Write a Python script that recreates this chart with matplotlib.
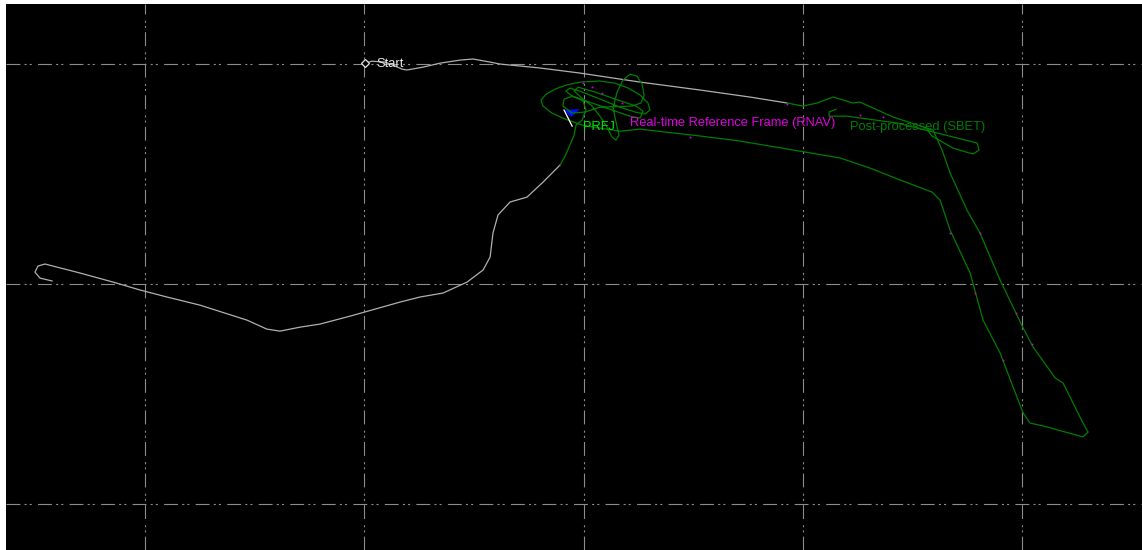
import matplotlib
matplotlib.use("Agg")
import matplotlib.pyplot as plt

plt.rcParams['lines.scale_dashes'] = False
plt.rcParams['font.family'] = ['Liberation Sans', 'DejaVu Sans']

# Grid positions (metres, local easting / northing)
grid_e = [0, 100, 200, 300, 400]
grid_n = [0, 100, 200]

# White (unprocessed) track - western leg
white_west = [(-42.4, 101.4), (-47.9, 102.7), (-50.2, 105.4), (-48.8, 108.2), (-45.6, 109.1),
              (-29.6, 105.0), (-14.6, 100.9), (-2.3, 97.3), (10.0, 94.1), (25.1, 90.4),
              (46.5, 83.6), (55.6, 79.5), (61.6, 78.6), (70.7, 80.4), (79.8, 81.8),
              (93.5, 85.4), (116.3, 91.8), (125.4, 94.1), (135.9, 95.9), (146.9, 100.9),
              (154.2, 106.4), (157.4, 112.3), (158.7, 123.2), (161.0, 131.4), (166.5, 137.3),
              (174.2, 139.5), (181.5, 146.3), (189.3, 154.1)]

# White track - northern leg from Start
white_top = [(100.3, 200.4), (103.5, 201.3), (109.5, 200.9), (114.0, 199.1), (117.2, 197.7),
             (119.5, 197.3), (126.8, 198.6), (134.5, 200.4), (143.7, 201.8), (149.6, 202.3),
             (157.4, 200.9), (161.9, 200.0), (180.2, 198.2), (198.4, 195.9), (225.8, 191.8),
             (253.1, 188.2), (275.9, 185.0), (292.8, 182.3)]

# Post-processed (SBET) track
green_main = [(292.8, 182.3), (300.1, 180.9), (306.5, 182.3), (313.8, 185.0), (322.9, 182.3),
              (326.1, 182.7), (341.2, 175.9), (359.4, 170.0), (363.5, 160.9), (367.2, 150.4),
              (374.9, 133.6), (380.8, 123.2), (390.0, 101.8), (400.5, 80.0), (405.0, 71.4),
              (415.1, 57.3), (418.7, 55.0), (427.8, 36.8), (430.1, 32.7), (427.8, 30.5),
              (409.6, 35.5), (403.6, 36.8), (400.5, 41.4), (395.9, 53.2), (390.0, 68.6),
              (382.2, 83.6), (376.3, 105.0), (367.2, 124.5), (362.6, 138.2), (358.9, 141.8),
              (344.4, 147.3), (330.7, 152.7), (317.0, 157.3), (298.7, 160.4), (271.4, 165.0),
              (253.1, 167.3), (225.8, 170.4),
              (216.6, 169.5), (207.5, 170.9), (199.3, 172.3), (191.6, 175.0), (185.6, 177.7),
              (181.5, 180.9), (180.6, 183.6), (182.9, 186.3), (187.0, 188.6), (192.0, 190.4),
              (198.4, 191.8), (207.5, 192.3), (214.4, 191.3), (220.3, 189.1), (225.8, 185.9),
              (229.4, 182.3), (230.3, 179.1), (228.1, 177.3), (223.5, 178.2), (216.6, 180.4),
              (207.5, 184.1), (199.3, 187.3), (193.8, 189.1), (192.0, 187.7), (194.8, 185.4),
              (203.9, 182.3), (213.0, 179.1), (221.2, 176.3), (225.8, 175.4), (227.1, 178.6),
              (223.9, 180.9), (214.4, 184.1), (205.2, 187.3), (197.5, 189.5), (195.7, 187.7),
              (199.3, 184.5), (203.9, 180.9), (207.5, 176.3), (210.7, 171.3), (213.0, 166.8),
              (214.8, 165.4), (216.2, 167.7), (214.8, 173.6), (213.5, 180.0), (215.3, 187.3),
              (218.0, 192.7), (221.2, 195.4), (224.4, 194.5), (226.7, 190.9), (227.6, 185.9),
              (226.2, 182.3), (222.1, 180.9), (207.5, 180.4), (200.7, 178.2), (194.8, 177.7),
              (190.6, 180.9), (191.1, 184.1), (195.2, 185.4), (199.8, 183.2), (201.1, 179.1),
              (199.3, 174.5), (196.6, 172.3), (195.7, 167.7), (193.8, 163.2), (191.6, 158.2),
              (189.3, 154.1)]

green_loop = [(315.2, 179.5), (312.0, 178.2), (312.0, 176.3), (320.2, 176.3), (343.0, 173.2),
              (358.0, 169.5), (379.5, 164.1), (380.4, 160.9), (377.6, 159.1), (368.5, 161.8),
              (358.9, 167.3), (355.8, 171.3)]

# Real-time (RNAV) fixes
rnav_pts = [(199.8, 191.3), (203.9, 189.5), (208.4, 186.8), (217.6, 182.3), (248.6, 166.8),
            (292.8, 181.8), (326.1, 176.8), (336.6, 175.9), (367.2, 123.2), (380.8, 123.2),
            (378.6, 95.9), (391.3, 65.5), (397.3, 86.8), (404.6, 72.7)]

start_pt = (100.3, 200.4)
flag_tri = [(191.1, 179.1), (198.4, 179.5), (194.3, 175.9)]
flag_pole = [(191.1, 179.1), (194.8, 171.8)]

labels = [
    ("Start", (105.4, 200.2), '#e6e6e6'),
    ("PRFJ", (199.8, 171.6), '#00e600'),
    ("Real-time Reference Frame (RNAV)", (221.2, 173.4), '#e000e0'),
    ("Post-processed (SBET)", (321.6, 171.3), '#007d00'),
]

fig = plt.figure(figsize=(11.42, 5.5), dpi=100, facecolor='white')
ax = fig.add_axes([6 / 1142, 0, 1136 / 1142, 546 / 550])
ax.set_facecolor('black')
ax.set_xlim(-63.4, 454.7)
ax.set_ylim(-20.9, 227.3)
for s in ax.spines.values():
    s.set_visible(False)
ax.set_xticks(grid_e)
ax.set_yticks(grid_n)
ax.tick_params(length=0, labelbottom=False, labelleft=False)
ax.set_axisbelow(True)
ax.grid(True, color='#8c8c8c', linewidth=0.8,
        linestyle=(0, (10, 3, 1.5, 2.2, 1.5, 4.5)))


def xy(pts):
    return [p[0] for p in pts], [p[1] for p in pts]


ax.plot(*xy(white_west), color='#b0b0b0', lw=0.9, solid_joinstyle='round')
ax.plot(*xy(white_top), color='#b0b0b0', lw=0.9, solid_joinstyle='round')
ax.plot(*xy(green_main), color='#007d00', lw=0.9, solid_joinstyle='round')
ax.plot(*xy(green_loop), color='#007d00', lw=0.9, solid_joinstyle='round')
ax.plot(*xy(rnav_pts), ls='none', marker='s', ms=1.2, mfc='#e000e0', mec='none')

ax.plot([start_pt[0]], [start_pt[1]], marker='D', ms=3.8, mfc='black', mec='#e6e6e6', mew=0.9)
ax.fill(*xy(flag_tri), color='#0010ff', lw=0)
ax.plot(*xy(flag_pole), color='white', lw=0.9)

for txt, (e, n), col in labels:
    ax.text(e, n, txt, color=col, fontsize=9.3, ha='left', va='center')

fig.savefig('out.png', dpi=100, facecolor='white')
